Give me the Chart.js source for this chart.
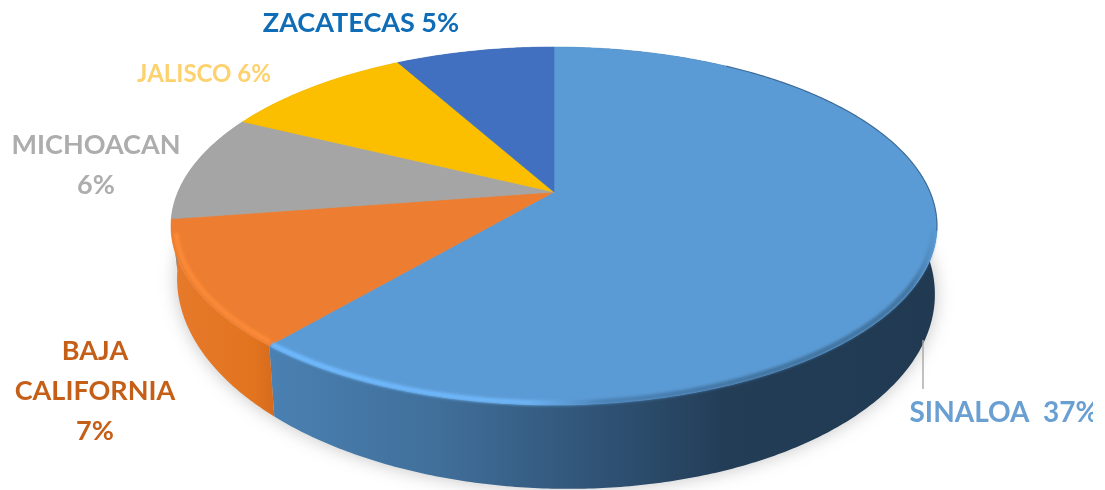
<!DOCTYPE html>
<html><head><meta charset="utf-8">
<style>html,body{margin:0;padding:0;background:#fff;overflow:hidden}#wrap{width:1105px;height:490px}</style>
<script src="https://cdn.jsdelivr.net/npm/chart.js@4/dist/chart.umd.min.js"></script>
</head><body><div id="wrap"><canvas id="c" width="1105" height="490"></canvas></div>
<script>
const categories = ['SINALOA','BAJA CALIFORNIA','MICHOACAN','JALISCO','ZACATECAS'];
const shares = [37,7,6,6,5];
const sliceColors = ['#5b9bd5','#ed7d31','#a5a5a5','#fcbf00','#4170c0'];

const labelLines = [['SINALOA  37%'],['BAJA','CALIFORNIA','7%'],['MICHOACAN','6%'],['JALISCO 6%'],['ZACATECAS 5%']];
const labelColors = ['#6a9fd2','#c55f17','#adadad','#fdd16e','#0f6cb6'];
const labelCenters = [[1004,422],[95,360],[96,154],[204,82],[361,32]];
const labelSizes = [28,27,27,24,27];

// projection of the unit pie onto the page: top rim and bottom rim
const TOP = {cx:554, cy:192, a:172.5, b:376, k:0.19, skew:0};
const BOT = {cx:556, cy:248, a:195, b:372, k:0.19, skew:8};
function proj(th, r, level){
  const t = th + 0.037*Math.sin(th/2);
  const P = level ? BOT : TOP;
  const u = r*Math.sin(t), v = -r*Math.cos(t), w = 1 - P.k*v;
  return [P.cx + P.b*u/w, P.cy + P.a*v/w + P.skew*u];
}
function trace(ctx, t0, t1, r, level, moveFirst){
  const n = Math.max(2, Math.ceil(Math.abs(t1-t0)/0.01));
  for(let i=0;i<=n;i++){
    const p = proj(t0+(t1-t0)*i/n, r, level);
    if(i===0 && moveFirst) ctx.moveTo(p[0],p[1]); else ctx.lineTo(p[0],p[1]);
  }
}
const sideStops = {
  0:[[0,'#4a80b2'],[0.25,'#406f9a'],[0.5,'#2f5274'],[0.68,'#233d57'],[1,'#213a52']],
  1:[[0,'#e67a2b'],[0.8,'#e2741f'],[1,'#d56a1d']],
  2:[[0,'#8f8f8f'],[1,'#8f8f8f']],
  3:[[0,'#c79600'],[1,'#c79600']],
  4:[[0,'#30568f'],[1,'#30568f']]
};
const pie3d = {
  id:'pie3d',
  beforeDatasetDraw(chart,args){
    const ctx = chart.ctx, arcs = chart.getDatasetMeta(0).data;
    const ang = arcs.map(a=>[a.startAngle+Math.PI/2, a.endAngle+Math.PI/2]);
    // soft cast shadow
    ctx.save();
    ctx.filter='blur(9px)'; ctx.fillStyle='rgba(60,60,60,0.30)';
    ctx.beginPath(); trace(ctx,0,Math.PI*2,1.0,1,true);
    ctx.closePath(); ctx.translate(0,4); ctx.fill(); ctx.restore();
    // side walls
    arcs.forEach((a,i)=>{
      const g=ctx.createLinearGradient(i===0?272:172,0,i===0?938:275,0);
      sideStops[i].forEach(s=>g.addColorStop(s[0],s[1]));
      ctx.fillStyle=g;
      ctx.beginPath();
      trace(ctx,ang[i][0],ang[i][1],1,0,true);
      trace(ctx,ang[i][1],ang[i][0],1,1,false);
      ctx.closePath(); ctx.fill();
    });
    // top faces
    arcs.forEach((a,i)=>{
      ctx.fillStyle=a.options.backgroundColor; ctx.strokeStyle=a.options.backgroundColor; ctx.lineWidth=0.6;
      ctx.beginPath(); const c=proj(0,0,0); ctx.moveTo(c[0],c[1]);
      trace(ctx,ang[i][0],ang[i][1],1,0,false);
      ctx.closePath(); ctx.fill(); ctx.stroke();
    });
    // rim bevel
    ctx.save(); ctx.filter='blur(1.8px)'; ctx.lineCap='butt'; ctx.lineWidth=5;
    const g0=ctx.createLinearGradient(272,0,938,0);
    g0.addColorStop(0,'#6fbaff'); g0.addColorStop(0.38,'#6fb6f8'); g0.addColorStop(0.5,'#4b81b5');
    g0.addColorStop(0.72,'#41739f'); g0.addColorStop(0.96,'#41739f'); g0.addColorStop(1,'#5b9bd5');
    ctx.strokeStyle=g0; ctx.beginPath(); trace(ctx,Math.PI*0.56,ang[0][1],0.992,0,true); ctx.stroke();
    ctx.strokeStyle='#fb8a38'; ctx.beginPath(); trace(ctx,ang[1][0]+0.01,ang[1][1]-0.08,0.988,0,true); ctx.stroke();
    ctx.restore();
    // thin darker back edge on the upper right
    ctx.save(); ctx.strokeStyle='rgba(50,90,130,0.7)'; ctx.lineWidth=1.2;
    ctx.beginPath(); trace(ctx,0.55,Math.PI*0.56,1,0,true); ctx.stroke(); ctx.restore();
    return false;
  },
  afterDraw(chart){
    const ctx = chart.ctx;
    ctx.save();
    ctx.beginPath(); ctx.rect(0,0,1093,490); ctx.clip();
    ctx.strokeStyle='#a6a6a6'; ctx.lineWidth=1.4;
    ctx.beginPath(); ctx.moveTo(923,340); ctx.lineTo(923,389); ctx.stroke();
    ctx.filter='blur(0.4px)';
    ctx.textAlign='center'; ctx.textBaseline='alphabetic';
    labelLines.forEach((lines,i)=>{
      ctx.font='bold '+labelSizes[i]+'px Lato';
      ctx.fillStyle=labelColors[i];
      lines.forEach((t,j)=>ctx.fillText(t,labelCenters[i][0],labelCenters[i][1]+j*40));
    });
    ctx.restore();
  }
};
new Chart(document.getElementById('c'),{
  type:'pie',
  data:{labels:categories,datasets:[{data:shares,backgroundColor:sliceColors,borderWidth:0}]},
  options:{responsive:false,animation:false,events:[],
    layout:{padding:0},
    plugins:{legend:{display:false},tooltip:{enabled:false}}},
  plugins:[pie3d]
});
</script></body></html>
